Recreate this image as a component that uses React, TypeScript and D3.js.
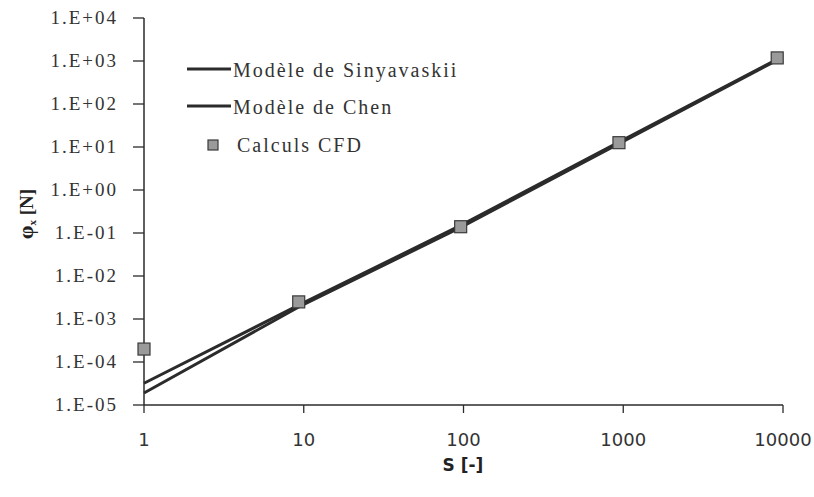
import React from "react";
import * as d3 from "d3";

const xTicks = [1, 10, 100, 1000, 10000];
const xTickLabels = ["1", "10", "100", "1000", "10000"];
const yTicks = [1e-5, 1e-4, 1e-3, 1e-2, 1e-1, 1, 10, 100, 1000, 10000];
const yTickLabels = ["1.E-05", "1.E-04", "1.E-03", "1.E-02", "1.E-01", "1.E+00", "1.E+01", "1.E+02", "1.E+03", "1.E+04"];

const sValues = [1, 9.3, 96, 940, 9200];
const sinyavaskii = [3.2e-5, 2.1e-3, 0.15, 13, 1100];
const chen = [1.9e-5, 1.9e-3, 0.135, 12, 1050];
const cfd = [2.0e-4, 2.5e-3, 0.14, 12.6, 1180];

const seriesNames = ["Modèle de Sinyavaskii", "Modèle de Chen", "Calculs CFD"];

export default function App() {
  const W = 814, H = 497;
  const x = d3.scaleLog().domain([1, 10000]).range([144, 783]);
  const y = d3.scaleLog().domain([1e-5, 1e4]).range([405, 18]);
  const line = d3
    .line<[number, number]>()
    .x((d) => x(d[0]))
    .y((d) => y(d[1]));
  const ink = "#2b2b2b";
  const sin = sValues.map((s, i) => [s, sinyavaskii[i]] as [number, number]);
  const ch = sValues.map((s, i) => [s, chen[i]] as [number, number]);
  const serif = "'Liberation Serif', 'Times New Roman', serif";
  const sans = "'DejaVu Sans', Verdana, sans-serif";
  return (
    <svg width={W} height={H} style={{ position: "absolute", left: 0, top: 0, background: "#fff" }}>
      <rect x={0} y={0} width={W} height={H} fill="#ffffff" />
      {/* axes */}
      <line x1={x(1)} x2={x(1)} y1={y(1e4)} y2={y(1e-5)} stroke={ink} strokeWidth={1.5} />
      <line x1={x(1)} x2={x(10000)} y1={y(1e-5)} y2={y(1e-5)} stroke={ink} strokeWidth={1.5} />
      {yTicks.map((t, i) => (
        <g key={"yt" + i}>
          <line x1={x(1) - 11} x2={x(1)} y1={y(t)} y2={y(t)} stroke={ink} strokeWidth={1.3} />
          <text x={118} y={y(t) + 6} textAnchor="end" fontFamily={serif} fontSize={19} letterSpacing={2} fill="#333">
            {yTickLabels[i]}
          </text>
        </g>
      ))}
      {xTicks.map((t, i) => (
        <g key={"xt" + i}>
          <line x1={x(t)} x2={x(t)} y1={y(1e-5)} y2={y(1e-5) + 8} stroke={ink} strokeWidth={1.3} />
          <text x={x(t)} y={446} textAnchor="middle" fontFamily={sans} fontSize={18} fill="#333">
            {xTickLabels[i]}
          </text>
        </g>
      ))}
      {/* axis titles */}
      <text x={463} y={471} textAnchor="middle" fontFamily={sans} fontWeight="bold" fontSize={17} fill="#222">
        S [-]
      </text>
      <text
        transform="translate(33,214) rotate(-90)"
        textAnchor="middle"
        fontFamily={serif}
        fontWeight="bold"
        fontSize={19}
        fill="#222"
      >
        <tspan fontSize={22}>φ</tspan>
        <tspan fontSize={11} dy={3}>x</tspan>
        <tspan dy={-3}> [N]</tspan>
      </text>
      {/* model lines */}
      <path d={line(sin) || ""} fill="none" stroke={ink} strokeWidth={3} />
      <path d={line(ch) || ""} fill="none" stroke={ink} strokeWidth={3} />
      {/* CFD points */}
      {sValues.map((s, i) => (
        <rect
          key={"p" + i}
          x={x(s) - 6}
          y={y(cfd[i]) - 6}
          width={12}
          height={12}
          fill="#9a9a9a"
          stroke="#3a3a3a"
          strokeWidth={1.2}
        />
      ))}
      {/* legend */}
      <line x1={187} x2={231} y1={69} y2={69} stroke={ink} strokeWidth={3} />
      <text x={233} y={77} fontFamily={serif} fontSize={20} letterSpacing={2} fill="#333">
        {seriesNames[0]}
      </text>
      <line x1={187} x2={231} y1={106} y2={106} stroke={ink} strokeWidth={3} />
      <text x={233} y={114} fontFamily={serif} fontSize={20} letterSpacing={2} fill="#333">
        {seriesNames[1]}
      </text>
      <rect x={208} y={140} width={10} height={10} fill="#9a9a9a" stroke="#3a3a3a" strokeWidth={1.2} />
      <text x={237} y={152} fontFamily={serif} fontSize={20} letterSpacing={2} fill="#333">
        {seriesNames[2]}
      </text>
    </svg>
  );
}
